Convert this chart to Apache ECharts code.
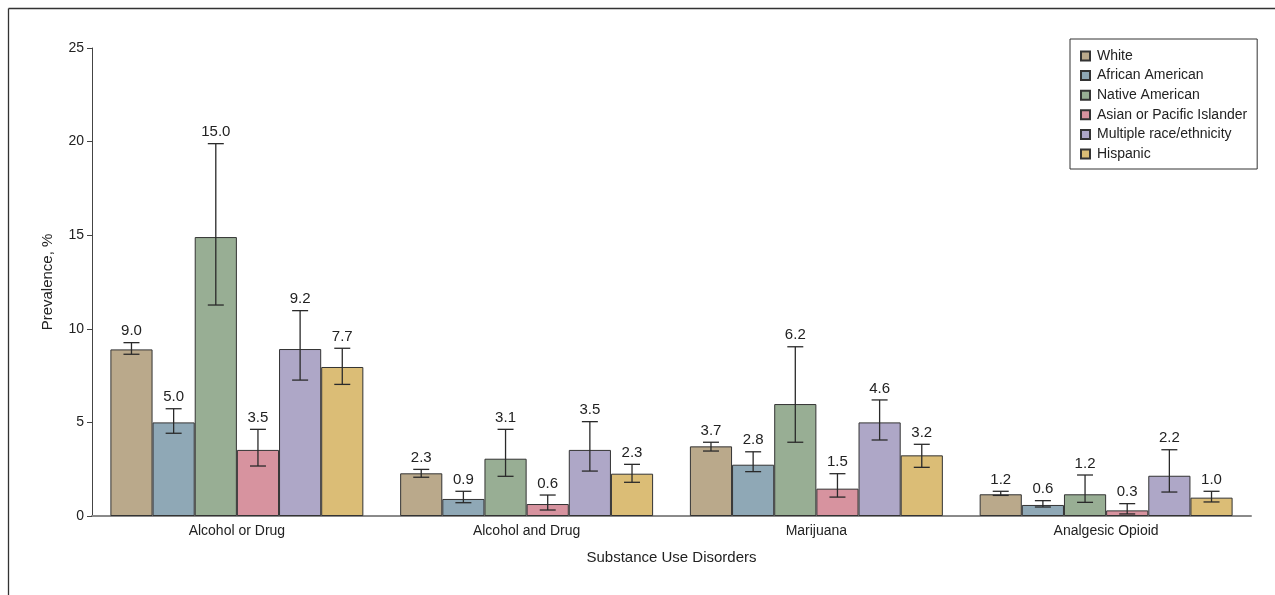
<!DOCTYPE html>
<html>
<head>
<meta charset="utf-8">
<script src="https://cdn.jsdelivr.net/npm/echarts@6/dist/echarts.min.js"></script>
<style>
html,body{margin:0;padding:0;background:#fff;}
#chart{width:1275px;height:595px;}
</style>
</head>
<body>
<div id="chart"></div>
<script>
const categories = ['Alcohol or Drug', 'Alcohol and Drug', 'Marijuana', 'Analgesic Opioid'];
const groups = ['White', 'African American', 'Native American', 'Asian or Pacific Islander', 'Multiple race/ethnicity', 'Hispanic'];
const yTicks = [0, 5, 10, 15, 20, 25];

// Bar heights (as drawn), per group across categories
const valWhite    = [8.9, 2.28, 3.72, 1.16];
const valAfrican  = [5.0, 0.91, 2.74, 0.59];
const valNative   = [14.9, 3.06, 5.98, 1.16];
const valAsian    = [3.53, 0.64, 1.46, 0.30];
const valMultiple = [8.92, 3.53, 5.0, 2.15];
const valHispanic = [7.96, 2.26, 3.24, 0.98];

// Error bar lower bounds
const lowWhite    = [8.64, 2.07, 3.47, 1.10];
const lowAfrican  = [4.42, 0.71, 2.37, 0.48];
const lowNative   = [11.27, 2.12, 3.94, 0.73];
const lowAsian    = [2.67, 0.32, 1.01, 0.11];
const lowMultiple = [7.26, 2.40, 4.06, 1.28];
const lowHispanic = [7.03, 1.80, 2.60, 0.75];

// Error bar upper bounds
const upWhite    = [9.26, 2.49, 3.94, 1.32];
const upAfrican  = [5.73, 1.32, 3.43, 0.82];
const upNative   = [19.89, 4.63, 9.04, 2.19];
const upAsian    = [4.63, 1.12, 2.26, 0.66];
const upMultiple = [10.97, 5.04, 6.2, 3.54];
const upHispanic = [8.96, 2.76, 3.83, 1.32];

// Printed value labels
const lblWhite    = ['9.0', '2.3', '3.7', '1.2'];
const lblAfrican  = ['5.0', '0.9', '2.8', '0.6'];
const lblNative   = ['15.0', '3.1', '6.2', '1.2'];
const lblAsian    = ['3.5', '0.6', '1.5', '0.3'];
const lblMultiple = ['9.2', '3.5', '4.6', '2.2'];
const lblHispanic = ['7.7', '2.3', '3.2', '1.0'];

const values = [valWhite, valAfrican, valNative, valAsian, valMultiple, valHispanic];
const lows = [lowWhite, lowAfrican, lowNative, lowAsian, lowMultiple, lowHispanic];
const ups = [upWhite, upAfrican, upNative, upAsian, upMultiple, upHispanic];
const labels = [lblWhite, lblAfrican, lblNative, lblAsian, lblMultiple, lblHispanic];
const colors = ['#baa98b', '#8fa8b6', '#98ae94', '#d7939f', '#aea7c7', '#dbbd76'];

const FONT = "'Liberation Sans Narrow', 'Arial Narrow', 'Liberation Sans', sans-serif";
const CAT_GAP = 0.127;
const nG = groups.length;

const series = [];
groups.forEach((g, i) => {
  series.push({
    name: g,
    type: 'bar',
    data: values[i],
    barGap: '0%',
    barCategoryGap: (CAT_GAP * 100) + '%',
    itemStyle: { color: colors[i], borderColor: '#333', borderWidth: 1 },
    emphasis: { disabled: true },
    z: 2
  });
});
groups.forEach((g, i) => {
  const data = categories.map((c, k) => [k, lows[i][k], ups[i][k], labels[i][k]]);
  series.push({
    name: 'err_' + i,
    type: 'custom',
    data: data,
    z: 5,
    silent: true,
    encode: { x: 0, y: [1, 2] },
    renderItem: function (params, api) {
      const k = api.value(0);
      const lo = api.coord([k, api.value(1)]);
      const hi = api.coord([k, api.value(2)]);
      const catW = api.size([1, 0])[0];
      const barW = catW * (1 - CAT_GAP) / nG;
      const x = lo[0] + (i - (nG - 1) / 2) * barW;
      const cap = 8;
      const st = { stroke: '#2a2a2a', lineWidth: 1.3 };
      return {
        type: 'group',
        children: [
          { type: 'line', shape: { x1: x, y1: lo[1], x2: x, y2: hi[1] }, style: st },
          { type: 'line', shape: { x1: x - cap, y1: lo[1], x2: x + cap, y2: lo[1] }, style: st },
          { type: 'line', shape: { x1: x - cap, y1: hi[1], x2: x + cap, y2: hi[1] }, style: st },
          { type: 'text', style: { text: labels[i][k], x: x, y: hi[1] - 4, textAlign: 'center', textVerticalAlign: 'bottom', fill: '#222', font: '15px ' + FONT } }
        ]
      };
    }
  });
});

const chart = echarts.init(document.getElementById('chart'), null, { renderer: 'canvas' });
chart.setOption({
  animation: false,
  backgroundColor: '#fff',
  textStyle: { fontFamily: FONT },
  graphic: [
    { type: 'line', shape: { x1: 8.5, y1: 8.5, x2: 1275, y2: 8.5 }, style: { stroke: '#333', lineWidth: 1.3 }, silent: true },
    { type: 'line', shape: { x1: 8.5, y1: 8.5, x2: 8.5, y2: 595 }, style: { stroke: '#333', lineWidth: 1.3 }, silent: true }
  ],
  grid: { left: 92, right: 24, top: 48, bottom: 79, containLabel: false },
  legend: {
    data: groups,
    orient: 'vertical',
    left: 1070,
    top: 39,
    width: 186,
    padding: [10, 10, 8, 10],
    itemWidth: 9,
    itemHeight: 9,
    itemGap: 5.6,
    icon: 'rect',
    borderColor: '#333',
    borderWidth: 1,
    textStyle: { fontSize: 14, color: '#222', lineHeight: 14, fontFamily: FONT, padding: [0, 0, 0, 2] },
    selectedMode: false
  },
  xAxis: {
    type: 'category',
    data: categories,
    name: 'Substance Use Disorders',
    nameLocation: 'middle',
    nameGap: 34,
    nameTextStyle: { fontSize: 15, color: '#222', fontFamily: FONT },
    axisLine: { lineStyle: { color: '#8a8a8a', width: 2 } },
    axisTick: { show: false },
    axisLabel: { fontSize: 14, color: '#222', margin: 8, fontFamily: FONT }
  },
  yAxis: {
    type: 'value',
    min: yTicks[0],
    max: yTicks[yTicks.length - 1],
    interval: 5,
    name: 'Prevalence, %',
    nameLocation: 'middle',
    nameGap: 37,
    nameTextStyle: { fontSize: 15, color: '#222', fontFamily: FONT },
    axisLine: { show: true, lineStyle: { color: '#444', width: 1 } },
    axisTick: { show: true, length: 5, lineStyle: { color: '#444' } },
    axisLabel: { fontSize: 14, color: '#222', margin: 8, fontFamily: FONT },
    splitLine: { show: false }
  },
  series: series
});
</script>
</body>
</html>
